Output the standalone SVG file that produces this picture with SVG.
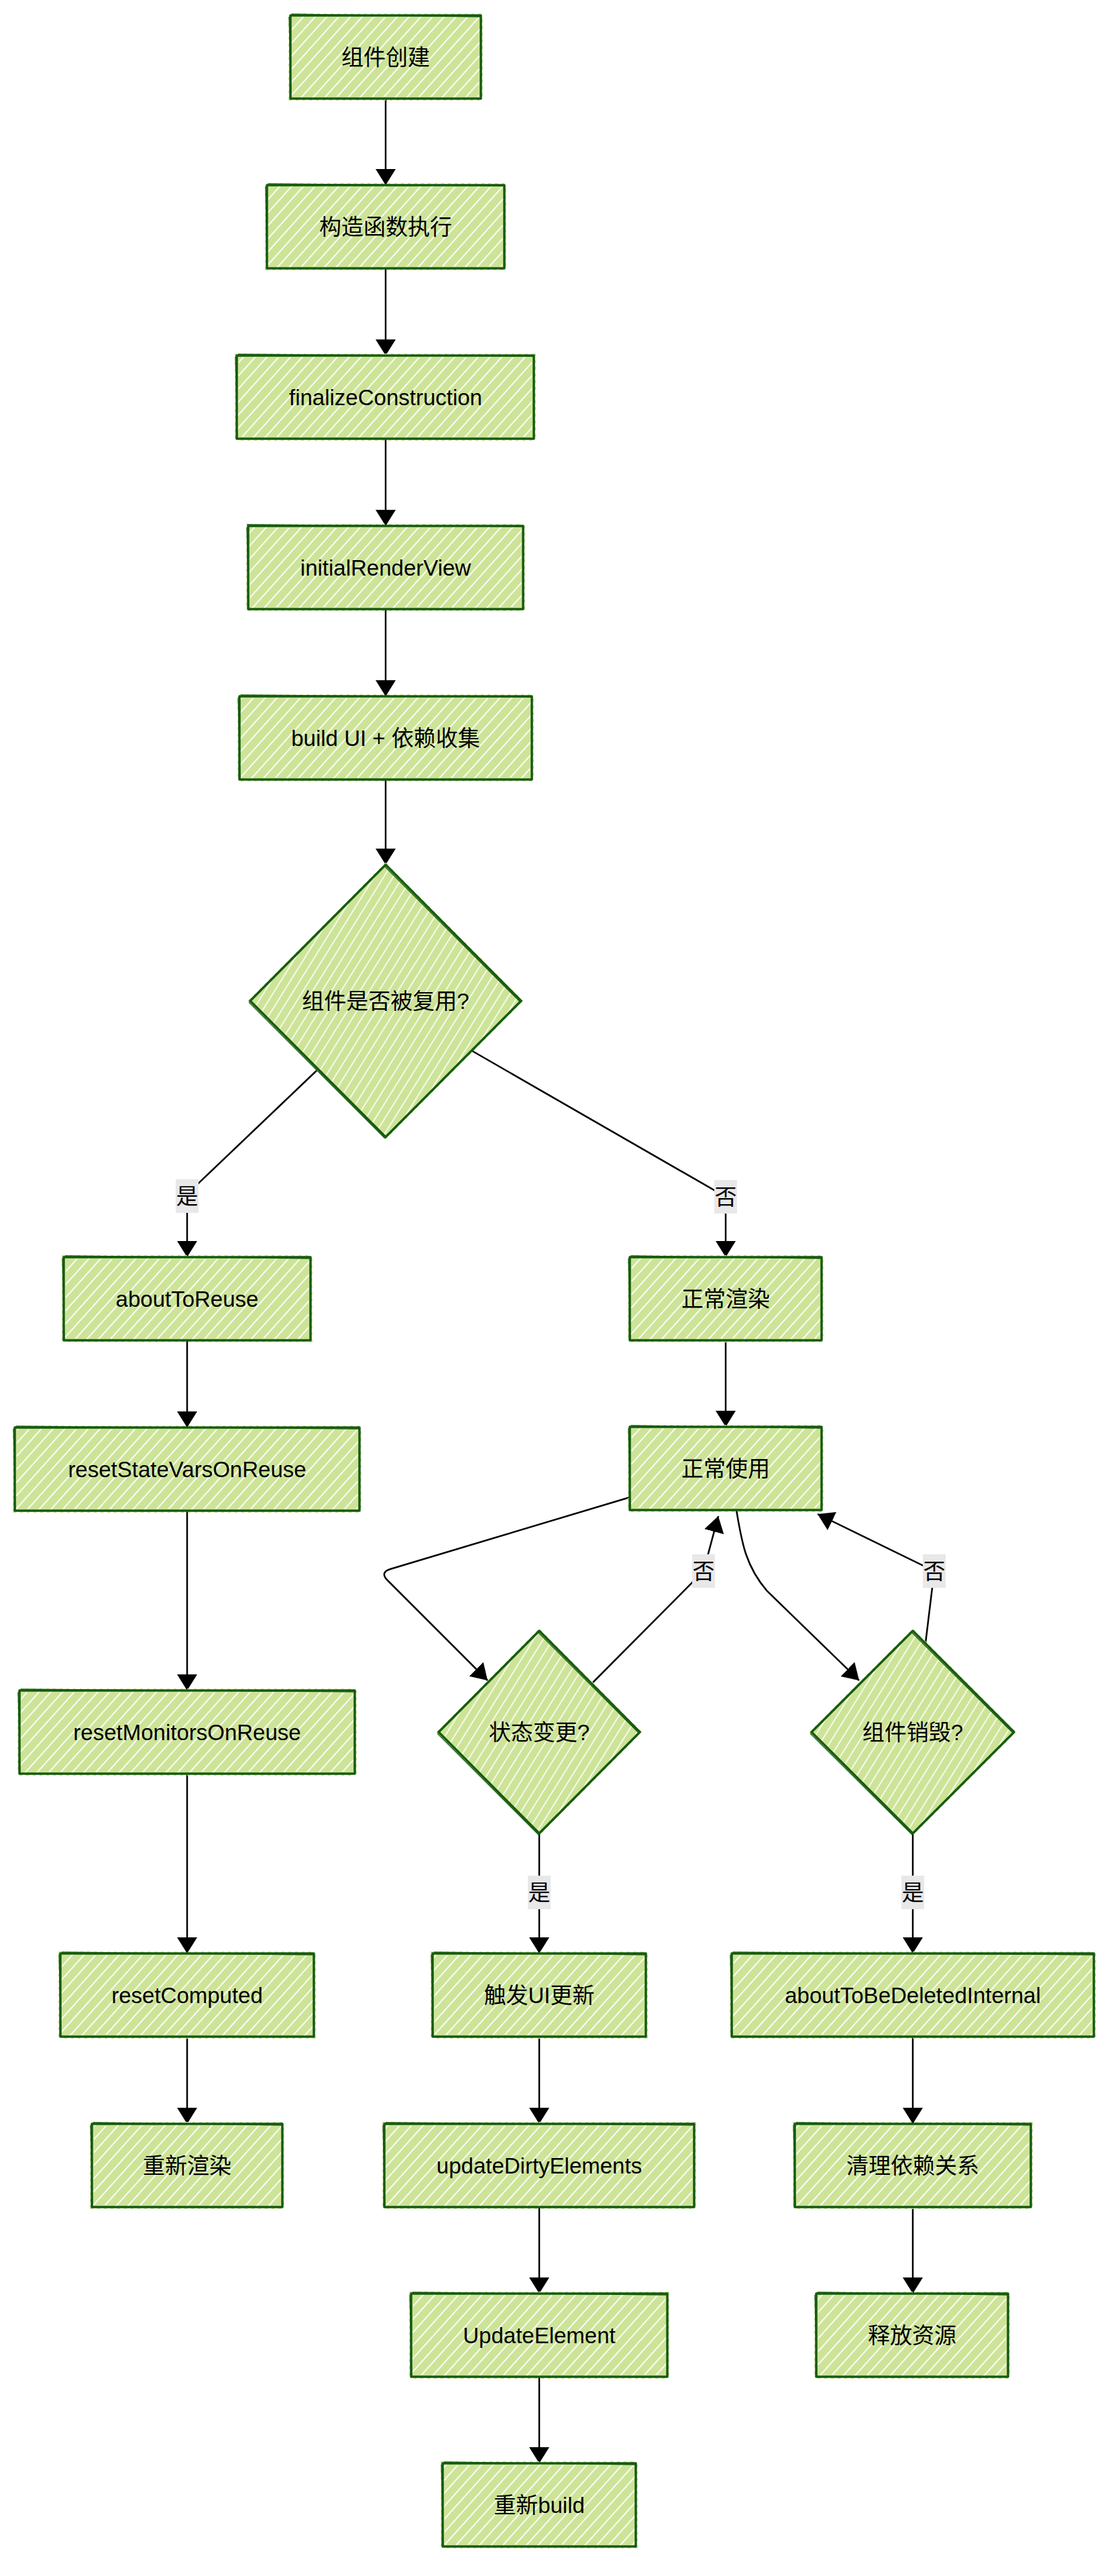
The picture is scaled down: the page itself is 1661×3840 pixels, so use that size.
<svg xmlns="http://www.w3.org/2000/svg" width="1661" height="3840" viewBox="0 0 1661 3840">
<defs>
  <pattern id="hatch" patternUnits="userSpaceOnUse" width="13" height="13" patternTransform="rotate(42)">
    <rect x="0" y="0" width="13" height="13" fill="#cde498"/>
    <line x1="2" y1="0" x2="2" y2="13" stroke="#ffffff" stroke-width="1.8"/>
  </pattern>
  <pattern id="hatchD" patternUnits="userSpaceOnUse" width="12" height="12" patternTransform="rotate(32)">
    <rect x="0" y="0" width="12" height="12" fill="#cde498"/>
    <line x1="2" y1="0" x2="2" y2="12" stroke="#ffffff" stroke-width="1.6"/>
  </pattern>
  <marker id="arrow" markerUnits="userSpaceOnUse" markerWidth="26" markerHeight="32" refX="24" refY="15" orient="auto">
    <path d="M0,0 L24,15 L0,30 z" fill="#000000"/>
  </marker>
  <style>
    .bg { fill: url(#hatch); stroke: #cde498; stroke-width: 6; stroke-dasharray: 4 6; }
    .ol { fill: none; stroke: #165b0e; stroke-width: 3.5; stroke-linejoin: round; }
    .ol2 { fill: none; stroke: #165b0e; stroke-width: 1.3; }
    .dbg { fill: url(#hatchD); stroke: #cde498; stroke-width: 5; stroke-dasharray: 4 7; }
    .t { font-family: "Liberation Sans", "Noto Sans CJK SC", sans-serif; font-size: 33px; fill: #000000; text-anchor: middle; dominant-baseline: central; }
    .edge { fill: none; stroke: #000000; stroke-width: 2.5; marker-end: url(#arrow); }
    .lbg { fill: #e8e8e8; }
  </style>
</defs>
<rect x="0" y="0" width="1661" height="3840" fill="#ffffff"/>

<g id="connectors">
  <path class="edge" d="M575,147 L575,276"/>
  <path class="edge" d="M575,400 L575,530"/>
  <path class="edge" d="M575,654 L575,784"/>
  <path class="edge" d="M575,908 L575,1038"/>
  <path class="edge" d="M575,1162 L575,1289"/>
  <path class="edge" d="M472,1596 L279,1780 L279,1874"/>
  <path class="edge" d="M703,1566 L1082,1784 L1082,1874"/>
  <path class="edge" d="M279,1998 L279,2128"/>
  <path class="edge" d="M279,2252 L279,2520"/>
  <path class="edge" d="M279,2644 L279,2912"/>
  <path class="edge" d="M279,3036 L279,3166"/>
  <path class="edge" d="M1082,1998 L1082,2127"/>
  <path class="edge" d="M939,2232 L582,2339 Q566,2344 578,2356 L727,2505"/>
  <path class="edge" d="M884,2508 L1049,2342 L1071,2260"/>
  <path class="edge" d="M1098,2251 C1106,2300 1112,2335 1144,2372 L1281,2505"/>
  <path class="edge" d="M1380,2449 L1393,2342 L1219,2257"/>
  <path class="edge" d="M804,2733 L804,2912"/>
  <path class="edge" d="M1361,2733 L1361,2912"/>
  <path class="edge" d="M804,3036 L804,3166"/>
  <path class="edge" d="M804,3290 L804,3419"/>
  <path class="edge" d="M804,3543 L804,3672"/>
  <path class="edge" d="M1361,3036 L1361,3166"/>
  <path class="edge" d="M1361,3290 L1361,3419"/>
</g>

<g id="edge-labels">
  <g><rect class="lbg" x="262" y="1758" width="34" height="50"/><text class="t" x="279" y="1783">是</text></g>
  <g><rect class="lbg" x="1065" y="1759" width="34" height="50"/><text class="t" x="1082" y="1784">否</text></g>
  <g><rect class="lbg" x="1032" y="2317" width="34" height="50"/><text class="t" x="1049" y="2342">否</text></g>
  <g><rect class="lbg" x="1376" y="2317" width="34" height="50"/><text class="t" x="1393" y="2342">否</text></g>
  <g><rect class="lbg" x="787" y="2796" width="34" height="50"/><text class="t" x="804" y="2821">是</text></g>
  <g><rect class="lbg" x="1344" y="2796" width="34" height="50"/><text class="t" x="1361" y="2821">是</text></g>
</g>

<g id="n1"><rect class="bg" x="433" y="23" width="284" height="124"/><rect class="ol" x="433" y="23" width="284" height="124"/><path class="ol2" d="M435,21 L716,25 M431,25 L434,148"/><text class="t" x="575" y="85">组件创建</text></g>
<g id="n2"><rect class="bg" x="398" y="276" width="354" height="124"/><rect class="ol" x="398" y="276" width="354" height="124"/><path class="ol2" d="M400,274 L751,277 M396,278 L398,401"/><text class="t" x="575" y="338">构造函数执行</text></g>
<g id="n3"><rect class="bg" x="353" y="530" width="443" height="124"/><rect class="ol" x="353" y="530" width="443" height="124"/><path class="ol2" d="M355,528 L795,531 M351,532 L354,655"/><text class="t" x="575" y="592">finalizeConstruction</text></g>
<g id="n4"><rect class="bg" x="370" y="784" width="410" height="124"/><rect class="ol" x="370" y="784" width="410" height="124"/><path class="ol2" d="M368,782 L779,785 M368,786 L371,909"/><text class="t" x="575" y="846">initialRenderView</text></g>
<g id="n5"><rect class="bg" x="357" y="1038" width="436" height="124"/><rect class="ol" x="357" y="1038" width="436" height="124"/><path class="ol2" d="M359,1036 L792,1039 M355,1040 L358,1163"/><text class="t" x="575" y="1100">build UI + 依赖收集</text></g>

<g id="d1"><path class="dbg" d="M575,1289 L777,1492 L575,1695 L373,1492 Z"/><path class="ol" d="M575,1289 L777,1492 L575,1695 L373,1492 Z"/><path class="ol2" d="M573,1291 L776,1494 M574,1697 L371,1494"/><text class="t" x="575" y="1492">组件是否被复用?</text></g>

<g id="n7"><rect class="bg" x="95" y="1874" width="368" height="124"/><rect class="ol" x="95" y="1874" width="368" height="124"/><path class="ol2" d="M97,1872 L462,1876 M93,1876 L96,1999"/><text class="t" x="279" y="1936">aboutToReuse</text></g>
<g id="n8"><rect class="bg" x="939" y="1874" width="286" height="124"/><rect class="ol" x="939" y="1874" width="286" height="124"/><path class="ol2" d="M941,1872 L1224,1876 M937,1876 L940,1999"/><text class="t" x="1082" y="1936">正常渲染</text></g>
<g id="n9"><rect class="bg" x="22" y="2128" width="514" height="124"/><rect class="ol" x="22" y="2128" width="514" height="124"/><path class="ol2" d="M24,2126 L535,2130 M20,2130 L23,2253"/><text class="t" x="279" y="2190">resetStateVarsOnReuse</text></g>
<g id="n10"><rect class="bg" x="939" y="2127" width="286" height="124"/><rect class="ol" x="939" y="2127" width="286" height="124"/><path class="ol2" d="M941,2125 L1224,2129 M937,2129 L940,2252"/><text class="t" x="1082" y="2189">正常使用</text></g>
<g id="n11"><rect class="bg" x="29" y="2520" width="500" height="124"/><rect class="ol" x="29" y="2520" width="500" height="124"/><path class="ol2" d="M31,2518 L528,2522 M27,2522 L30,2645"/><text class="t" x="279" y="2582">resetMonitorsOnReuse</text></g>

<g id="d2"><path class="dbg" d="M804,2431 L954,2582 L804,2733 L654,2582 Z"/><path class="ol" d="M804,2431 L954,2582 L804,2733 L654,2582 Z"/><path class="ol2" d="M802,2433 L953,2584 M803,2735 L652,2584"/><text class="t" x="804" y="2582">状态变更?</text></g>
<g id="d3"><path class="dbg" d="M1361,2431 L1512,2582 L1361,2733 L1210,2582 Z"/><path class="ol" d="M1361,2431 L1512,2582 L1361,2733 L1210,2582 Z"/><path class="ol2" d="M1359,2433 L1511,2584 M1360,2735 L1208,2584"/><text class="t" x="1361" y="2582">组件销毁?</text></g>

<g id="n14"><rect class="bg" x="90" y="2912" width="378" height="124"/><rect class="ol" x="90" y="2912" width="378" height="124"/><path class="ol2" d="M92,2910 L467,2914 M88,2914 L91,3037"/><text class="t" x="279" y="2974">resetComputed</text></g>
<g id="n15"><rect class="bg" x="645" y="2912" width="318" height="124"/><rect class="ol" x="645" y="2912" width="318" height="124"/><path class="ol2" d="M647,2910 L962,2914 M643,2914 L646,3037"/><text class="t" x="804" y="2974">触发UI更新</text></g>
<g id="n16"><rect class="bg" x="1091" y="2912" width="540" height="124"/><rect class="ol" x="1091" y="2912" width="540" height="124"/><path class="ol2" d="M1093,2910 L1630,2914 M1089,2914 L1092,3037"/><text class="t" x="1361" y="2974">aboutToBeDeletedInternal</text></g>
<g id="n17"><rect class="bg" x="137" y="3166" width="284" height="124"/><rect class="ol" x="137" y="3166" width="284" height="124"/><path class="ol2" d="M139,3164 L420,3168 M135,3168 L138,3291"/><text class="t" x="279" y="3228">重新渲染</text></g>
<g id="n18"><rect class="bg" x="573" y="3166" width="462" height="124"/><rect class="ol" x="573" y="3166" width="462" height="124"/><path class="ol2" d="M575,3164 L1034,3168 M571,3168 L574,3291"/><text class="t" x="804" y="3228">updateDirtyElements</text></g>
<g id="n19"><rect class="bg" x="1185" y="3166" width="352" height="124"/><rect class="ol" x="1185" y="3166" width="352" height="124"/><path class="ol2" d="M1187,3164 L1536,3168 M1183,3168 L1186,3291"/><text class="t" x="1361" y="3228">清理依赖关系</text></g>
<g id="n20"><rect class="bg" x="613" y="3419" width="382" height="124"/><rect class="ol" x="613" y="3419" width="382" height="124"/><path class="ol2" d="M615,3417 L994,3421 M611,3421 L614,3544"/><text class="t" x="804" y="3481">UpdateElement</text></g>
<g id="n21"><rect class="bg" x="1217" y="3419" width="286" height="124"/><rect class="ol" x="1217" y="3419" width="286" height="124"/><path class="ol2" d="M1219,3417 L1502,3421 M1215,3421 L1218,3544"/><text class="t" x="1360" y="3481">释放资源</text></g>
<g id="n22"><rect class="bg" x="660" y="3672" width="288" height="124"/><rect class="ol" x="660" y="3672" width="288" height="124"/><path class="ol2" d="M662,3670 L947,3674 M658,3674 L661,3797"/><text class="t" x="804" y="3734">重新build</text></g>
</svg>
